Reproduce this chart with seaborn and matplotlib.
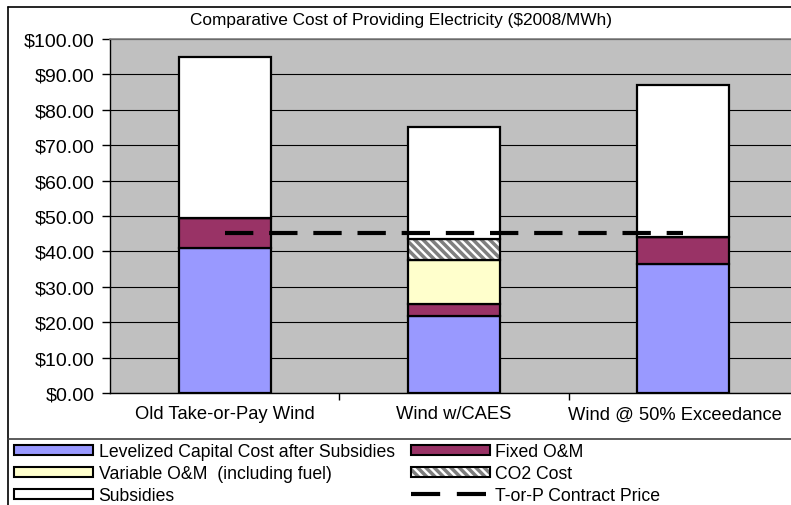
import numpy as np
import pandas as pd
import matplotlib.pyplot as plt
import matplotlib.transforms as mtransforms
import seaborn as sns
from matplotlib.patches import Patch
from matplotlib.lines import Line2D
from matplotlib.legend_handler import HandlerTuple
from matplotlib.ticker import FixedLocator, FuncFormatter

# Values ($2008/MWh)
categories = ["Old Take-or-Pay Wind", "Wind w/CAES", "Wind @ 50% Exceedance"]
capital = [41.0, 21.8, 36.4]
fixed_om = [8.5, 3.4, 7.7]
variable_om = [0.0, 12.4, 0.0]
co2_cost = [0.0, 5.9, 0.0]
subsidies = [45.4, 31.6, 42.9]
contract_price = [45.1, 45.1, 45.1]

series_names = ["Levelized Capital Cost after Subsidies", "Fixed O&M",
                "Variable O&M  (including fuel)", "CO2 Cost", "Subsidies"]
series_colors = ["#9999FF", "#993366", "#FFFFCC", "white", "white"]

sns.set_theme(style="ticks")
plt.rcParams.update({
    'font.family': ['Liberation Sans', 'DejaVu Sans'],
    'hatch.linewidth': 2.5,
    'axes.facecolor': '#C0C0C0',
    'text.color': 'black',
    'xtick.color': 'black',
    'ytick.color': 'black',
    'xtick.labelcolor': 'black',
    'ytick.labelcolor': 'black',
})

df = pd.DataFrame({"category": categories, "capital": capital, "fixed": fixed_om,
                   "variable": variable_om, "co2": co2_cost, "subsidies": subsidies,
                   "contract": contract_price})
cols = ["capital", "fixed", "variable", "co2", "subsidies"]

fig = plt.figure(figsize=(7.91, 5.06), dpi=100)
ax = fig.add_axes([110 / 791, 112 / 506, 688 / 791, 354 / 506])
ax.set_axisbelow(True)
ax.yaxis.grid(True, color='black', linewidth=0.8)

edge_lw = 1.6
bottom = np.zeros(len(categories))
for col, color in zip(cols, series_colors):
    if col == "co2":
        # grey diagonal stripes, then a black outline on top
        sns.barplot(data=df, x="category", y=col, bottom=bottom, ax=ax, width=0.4,
                    color="white", edgecolor="#7F7F7F", linewidth=0, hatch="\\\\\\\\",
                    order=categories)
        sns.barplot(data=df, x="category", y=col, bottom=bottom, ax=ax, width=0.4,
                    fill=False, color="black", linewidth=edge_lw, order=categories)
    else:
        sns.barplot(data=df, x="category", y=col, bottom=bottom, ax=ax, width=0.4,
                    color=color, edgecolor="black", linewidth=edge_lw, saturation=1,
                    order=categories)
    bottom = bottom + df[col].to_numpy()

dash = (6.8, 3.8)
sns.lineplot(data=df, x="category", y="contract", ax=ax, color="black",
             linewidth=3.0, dashes=False, sort=False)
ax.lines[-1].set_dashes(dash)
ax.lines[-1].set_dash_capstyle('butt')

ax.set_ylim(0, 100)
ax.set_xlim(-0.5, 2.5)
ax.set_xlabel("")
ax.set_ylabel("")
ax.yaxis.set_major_locator(FixedLocator(np.arange(0, 101, 10)))
ax.yaxis.set_major_formatter(FuncFormatter(lambda v, p: f"${v:.2f}"))
ax.tick_params(axis='y', labelsize=14, length=6, width=1, color='black', pad=5)
ax.tick_params(axis='x', which='major', labelsize=13.2, length=0, pad=9)
ax.xaxis.set_minor_locator(FixedLocator([0.5, 1.5]))
ax.tick_params(axis='x', which='minor', length=5, width=1, color='black')
# last category label is nudged left so it stays inside the chart, as in the original
last = ax.get_xticklabels()[-1]
last.set_transform(last.get_transform() +
                   mtransforms.ScaledTranslation(-8 / 100, 0, fig.dpi_scale_trans))
for s in ['left', 'bottom']:
    ax.spines[s].set_color('black')
    ax.spines[s].set_linewidth(1)
ax.spines['top'].set_visible(True)
ax.spines['top'].set_color('#808080')
ax.spines['top'].set_linewidth(1.2)
ax.spines['right'].set_visible(False)

fig.text(401 / 791, 1 - 21 / 506, "Comparative Cost of Providing Electricity ($2008/MWh)",
         ha='center', va='center', fontsize=12.4)

# chart frame and legend separator
fig.add_artist(Line2D([8 / 791, 8 / 791], [0, 1 - 8 / 506], color='black', linewidth=1.2))
fig.add_artist(Line2D([8 / 791, 1], [1 - 8 / 506, 1 - 8 / 506], color='black', linewidth=1.2))
fig.add_artist(Line2D([8 / 791, 1], [1 - 440 / 506, 1 - 440 / 506], color='#404040', linewidth=1.2))

h_cap = Patch(facecolor=series_colors[0], edgecolor='black', linewidth=1.5)
h_fix = Patch(facecolor=series_colors[1], edgecolor='black', linewidth=1.5)
h_var = Patch(facecolor=series_colors[2], edgecolor='black', linewidth=1.5)
h_co2 = (Patch(facecolor='white', edgecolor='#7F7F7F', linewidth=0, hatch='\\\\\\\\'),
         Patch(facecolor='none', edgecolor='black', linewidth=1.5))
h_sub = Patch(facecolor='white', edgecolor='black', linewidth=1.5)
h_line = Line2D([], [], color='black', linewidth=3, dashes=(7.0, 4.0))

# column-major order so rows read: capital/fixed, variable/co2, subsidies/contract
handles = [h_cap, h_var, h_sub, h_fix, h_co2, h_line]
labels = [series_names[0], series_names[2], series_names[4],
          series_names[1], series_names[3], "T-or-P Contract Price"]
fig.legend(handles, labels, ncol=2, loc='upper left',
           bbox_to_anchor=(14 / 791, 1 - 444 / 506), frameon=False,
           fontsize=12.7, borderpad=0, borderaxespad=0, handlelength=4.5,
           handleheight=0.5, handletextpad=0.3, labelspacing=0.28,
           columnspacing=0.9, handler_map={tuple: HandlerTuple(ndivide=1, pad=0)})

fig.savefig("out.png", dpi=100)
